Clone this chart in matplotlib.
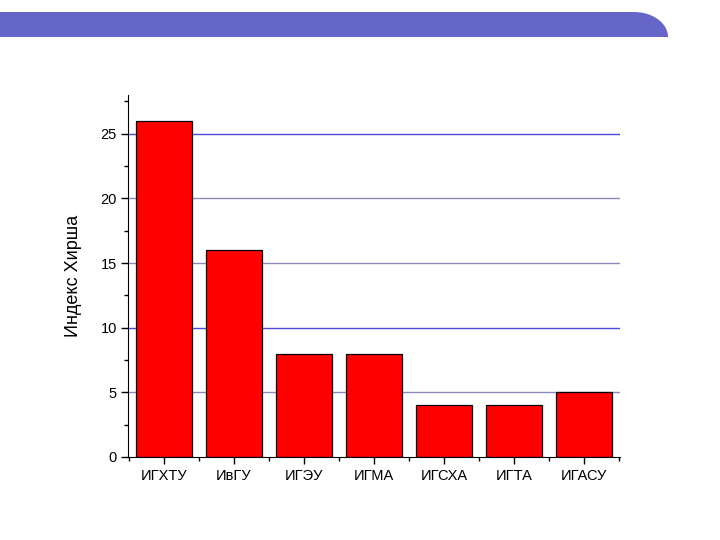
import numpy as np
import matplotlib.pyplot as plt
from matplotlib.patches import Polygon
from matplotlib.ticker import MultipleLocator, FixedLocator

plt.rcParams['font.family'] = ['Liberation Sans', 'DejaVu Sans']

institutes = ["ИГХТУ", "ИвГУ", "ИГЭУ", "ИГМА", "ИГСХА", "ИГТА", "ИГАСУ"]
hirsch = [26, 16, 8, 8, 4, 4, 5]
grid_levels = [5, 10, 15, 20, 25]
grid_colors = ["#8a8ab8", "#4b4bd8", "#8a8ab8", "#8a8ab8", "#4b4bd8"]

fig = plt.figure(figsize=(7.2, 5.4), dpi=100)

# banner across the top with a rounded right end
t = np.linspace(0, np.pi / 2, 30)
x0, x1, y_top, y_bot = 0, 634 / 720, 1 - 12 / 540, 1 - 37 / 540
rx, ry = (668 - 634) / 720, y_top - y_bot
curve = [(x1 + rx * np.sin(a), y_bot + ry * np.cos(a)) for a in t]
pts = [(x0, y_bot), (x0, y_top)] + curve
fig.patches.append(Polygon(pts, closed=True, transform=fig.transFigure,
                           facecolor="#6666c8", edgecolor="none"))

ax = fig.add_axes([128 / 720, 1 - 457 / 540, (620 - 128) / 720, (457 - 95) / 540])
x = np.arange(len(institutes))

for lvl, c in zip(grid_levels, grid_colors):
    ax.axhline(lvl, color=c, lw=1, zorder=1)

ax.bar(x, hirsch, width=0.8, color="#ff0000", edgecolor="black", lw=0.9, zorder=2)

ax.set_xlim(-0.514, 6.514)
ax.set_ylim(0, 28)
ax.spines["top"].set_visible(False)
ax.spines["right"].set_visible(False)

ax.set_xticks(x)
ax.set_xticklabels(institutes, fontsize=10.5)
ax.xaxis.set_minor_locator(FixedLocator(np.arange(-0.5, 7, 1)))
ax.yaxis.set_major_locator(MultipleLocator(5))
ax.yaxis.set_minor_locator(MultipleLocator(2.5))
ax.tick_params(axis="both", which="major", length=5, width=1, labelsize=10.5, pad=3)
ax.tick_params(axis="both", which="minor", length=3, width=1)
ax.tick_params(axis="x", which="major", pad=4)

ax.set_ylabel("Индекс Хирша", fontsize=13, labelpad=13)

fig.savefig("out.png", dpi=100)
